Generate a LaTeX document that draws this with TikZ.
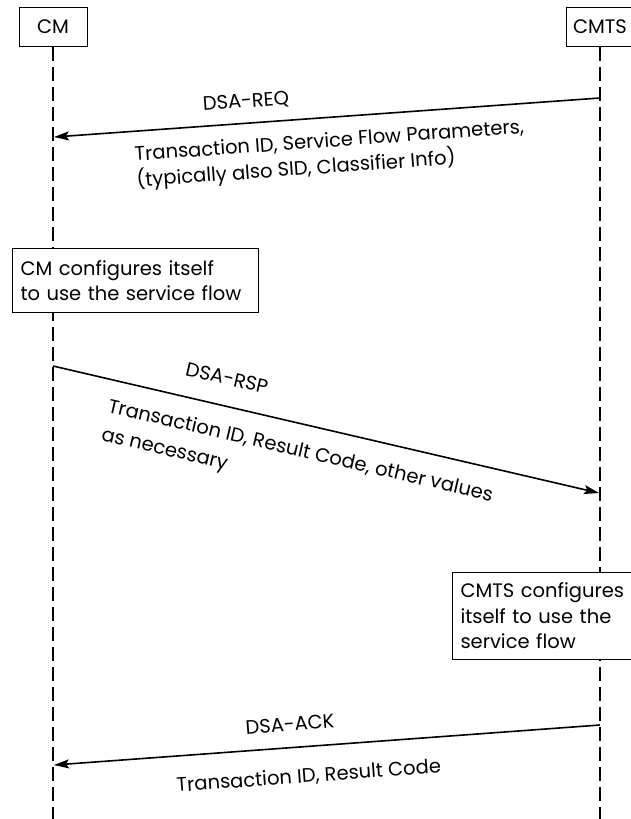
\documentclass[tikz,border=0pt]{standalone}
\usepackage{fontspec}
\setmainfont{Poppins}
\usetikzlibrary{arrows.meta}
\begin{document}
\begin{tikzpicture}[x=1pt,y=-1pt,
  lifeline/.style={line width=1.5pt, dash pattern=on 14pt off 6pt},
  msg/.style={line width=1.6pt, -{Stealth[length=15pt,width=9pt,inset=3pt]}},
  hdr/.style={draw, line width=1pt, fill=white, minimum width=68pt, minimum height=39pt, inner sep=0pt, font=\fontsize{19.5}{26}\selectfont},
  actbox/.style={draw, line width=1pt, fill=white, anchor=north west, align=left, inner xsep=8pt, inner ysep=0pt, font=\fontsize{19.5}{25.5}\selectfont},
  lbl/.style={inner sep=0pt, font=\fontsize{19.5}{26}\selectfont},
  lbl29/.style={inner sep=0pt, font=\fontsize{19.5}{29}\selectfont}]
\useasboundingbox (0,0) rectangle (631,819);
% headers
\node[hdr] (cm) at (53,27) {CM};
\node[hdr] (cmts) at (600,27) {CMTS};
\coordinate (cmEnd) at (53,822);
\coordinate (cmtsEnd) at (600,822);
% lifelines
\draw[lifeline] (cm.south) -- (cmEnd);
\draw[lifeline] (cmts.south) -- (cmtsEnd);
% DSA-REQ
\coordinate (reqS) at (600,98);
\coordinate (reqE) at (54,137);
\draw[msg] (reqS) -- (reqE);
\node[lbl, rotate=4.1] (reqL) at (246,102) {DSA-REQ};
\node[lbl, rotate=4.1, anchor=base west] (reqI) at (135,161)
  {\vtop{\hbox{Transaction ID, Service Flow Parameters,}\hbox{(typically also SID, Classifier Info)}}};
% CM configures
\node[actbox, minimum width=246pt, minimum height=64pt, text width=230pt] (cmcfg) at (12,248)
  {CM configures itself\\to use the service flow};
% DSA-RSP
\coordinate (rspS) at (53,366);
\coordinate (rspE) at (599,493);
\draw[msg] (rspS) -- (rspE);
\node[lbl, rotate=-13.1] (rspL) at (227,378) {DSA-RSP};
\node[lbl29, rotate=-13.1, anchor=base west] (rspI) at (107,412)
  {\vtop{\hbox{Transaction ID, Result Code, other values}\hbox{as necessary}}};
% CMTS configures
\node[actbox, minimum width=210pt, minimum height=87pt, text width=194pt] (cmtscfg) at (452,572)
  {CMTS configures\\itself to use the\\service flow};
% DSA-ACK
\coordinate (ackS) at (600,725);
\coordinate (ackE) at (54,765);
\draw[msg] (ackS) -- (ackE);
\node[lbl, rotate=4.2] (ackL) at (290,724) {DSA-ACK};
\node[lbl, rotate=4.2, anchor=base west] (ackI) at (177,792) {Transaction ID, Result Code};
\end{tikzpicture}
\end{document}
